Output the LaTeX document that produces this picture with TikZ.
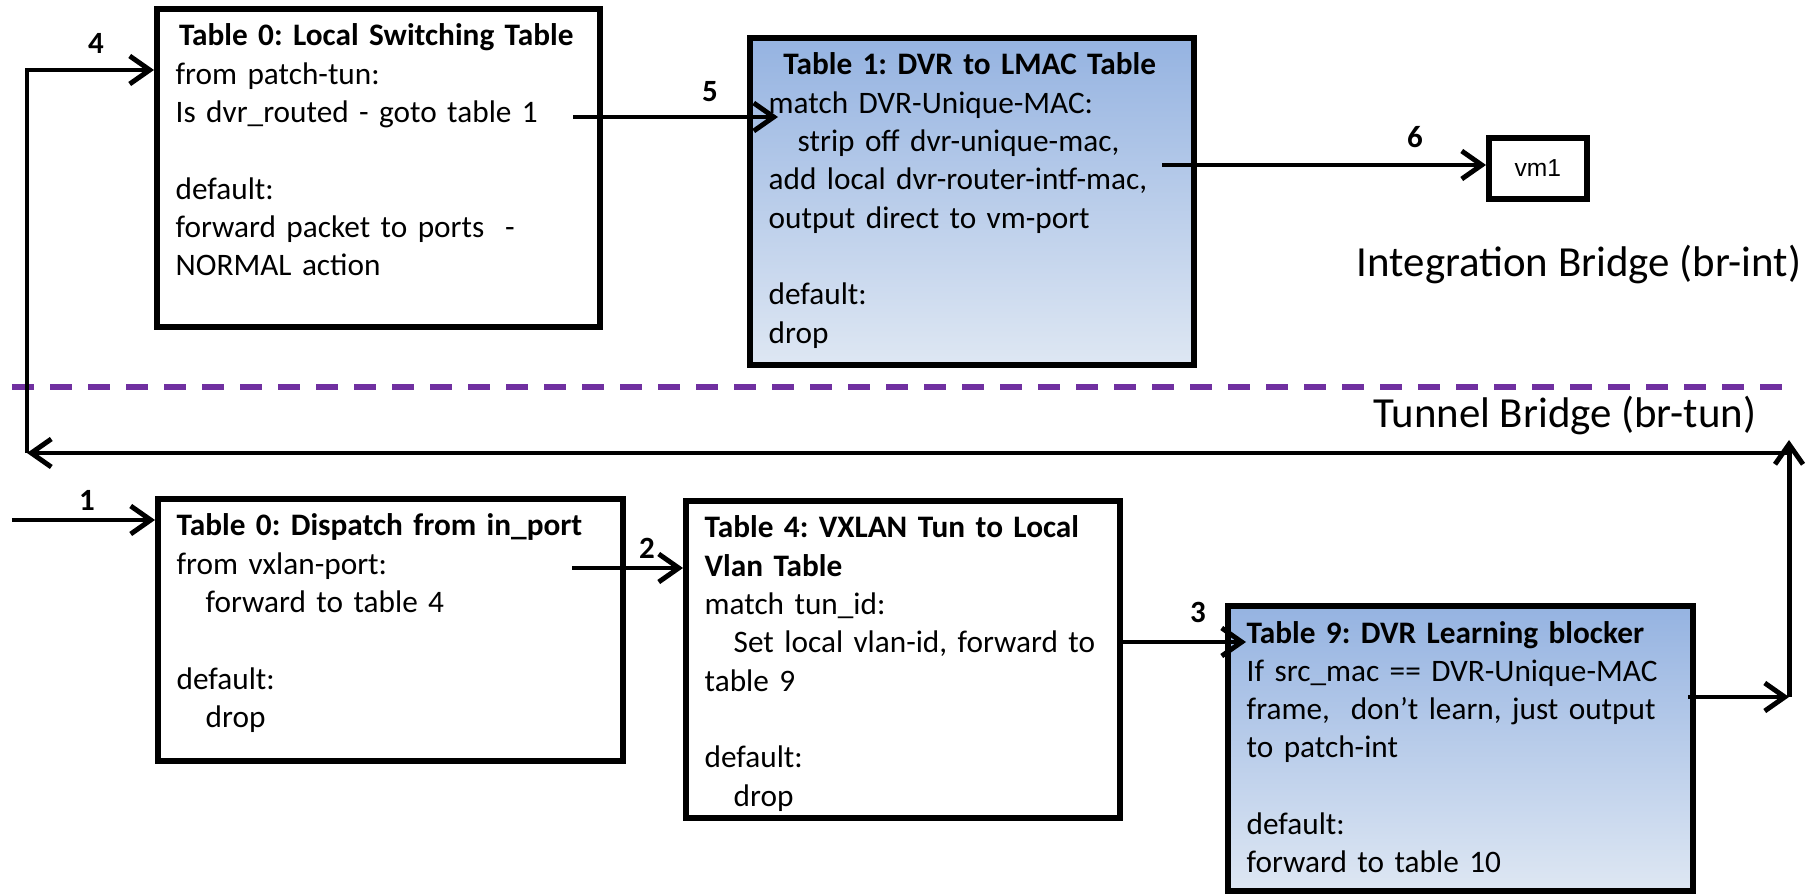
\documentclass[tikz,border=0pt]{standalone}
\usepackage{fontspec}
\setmainfont{Carlito}
\newfontfamily\vmfont{Liberation Sans}
\usepackage{xcolor}
\usepackage{tikz}
\usetikzlibrary{arrows.meta,calc,positioning}
\definecolor{bridgepurple}{RGB}{112,48,160}
\definecolor{dvrtop}{RGB}{149,179,225}
\definecolor{dvrbottom}{RGB}{222,231,243}
\newcommand{\ind}{\hspace*{0.29cm}}
\frenchspacing
\tikzset{
    tbl/.style={draw, line width=1.6pt, rectangle, inner sep=0pt, anchor=north west},
    dvrtbl/.style={tbl, top color=dvrtop, bottom color=dvrbottom},
    tbltext/.style={anchor=base west, inner sep=0pt, align=left, font=\fontsize{8.9}{10.9}\selectfont},
    flow/.style={line width=1.4pt, -{Straight Barb[length=2mm,width=2.8mm]}},
    steplabel/.style={inner sep=0pt, font=\fontsize{8.8}{10}\selectfont\bfseries},
    bridgename/.style={anchor=base east, inner sep=0pt, font=\fontsize{12.2}{14}\selectfont}}

\begin{document}
\begin{tikzpicture}
\useasboundingbox (0,0) rectangle (18.17,-8.96);

% integration bridge
\node[tbl, minimum width=4.43cm, minimum height=3.18cm] (lst) at (1.54,-0.06) {};
\node[tbltext, text width=4.01cm] (lsttxt) at ($(lst.north west)+(0.21,-0.40)$) {\hfill\textbf{Table 0: Local Switching Table}\hfill\null\\
from patch-tun:\\
Is dvr\_routed - goto table 1\\[10.9pt]
default:\\
forward packet to ports \ -\\
NORMAL action};
\node[dvrtbl, minimum width=4.44cm, minimum height=3.27cm] (dvr) at (7.47,-0.35) {};
\node[tbltext, text width=4.02cm] (dvrtxt) at ($(dvr.north west)+(0.21,-0.40)$) {\hfill\textbf{Table 1: DVR to LMAC Table}\hfill\null\\
match DVR-Unique-MAC:\\
\ind strip off dvr-unique-mac,\\
add local dvr-router-intf-mac,\\
output direct to vm-port\\[10.9pt]
default:\\
drop};
\node[tbl, minimum width=0.98cm, minimum height=0.61cm, font=\vmfont\fontsize{7}{8}\selectfont] (vm) at (14.86,-1.35) {vm1};
\node[bridgename] (brint) at (18.02,-2.77) {Integration Bridge (br-int)};

\draw[bridgepurple, line width=1.5pt, dash pattern=on 0.22cm off 0.16cm] (0.12,-3.87) -- (17.90,-3.87);
\node[bridgename] (brtun) at (17.57,-4.28) {Tunnel Bridge (br-tun)};

% tunnel bridge
\node[tbl, minimum width=4.65cm, minimum height=2.62cm] (disp) at (1.55,-4.96) {};
\node[tbltext, text width=4.23cm] (disptxt) at ($(disp.north west)+(0.21,-0.40)$) {\textbf{Table 0: Dispatch from in\_port}\\
from vxlan-port:\\
\ind forward to table 4\\[10.9pt]
default:\\
\ind drop};
\node[tbl, minimum width=4.34cm, minimum height=3.17cm] (vxlan) at (6.83,-4.98) {};
\node[tbltext, text width=3.92cm] (vxlantxt) at ($(vxlan.north west)+(0.21,-0.40)$) {\textbf{Table 4: VXLAN Tun to Local}\\
\textbf{Vlan Table}\\
match tun\_id:\\
\ind Set local vlan-id, forward to\\
table 9\\[10.9pt]
default:\\
\ind drop};
\node[dvrtbl, minimum width=4.65cm, minimum height=2.85cm] (learn) at (12.25,-6.03) {};
\node[tbltext, text width=4.23cm] (learntxt) at ($(learn.north west)+(0.21,-0.40)$) {\textbf{Table 9: DVR Learning blocker}\\
If src\_mac == DVR-Unique-MAC\\
frame, \ don’t learn, just output\\
to patch-int\\[10.9pt]
default:\\
forward to table 10};

% connectors
\coordinate (in1) at (0.12,-5.20);
\coordinate (out2) at (5.72,-5.68);
\coordinate (in3) at (12.46,-6.42);
\coordinate (out9) at (16.88,-6.97);
\coordinate (rb) at (17.89,-6.97);
\coordinate (rt) at (17.89,-4.53);
\coordinate (rtip) at (17.89,-4.40);
\coordinate (lt) at (0.27,-4.53);
\coordinate (in4) at (0.27,-0.70);
\coordinate (out5) at (5.73,-1.17);
\coordinate (in5) at (7.78,-1.17);
\coordinate (out6) at (11.62,-1.65);

\draw[flow] (in1) -- (disp.west |- in1);
\draw[flow] (out2) -- (vxlan.west |- out2);
\draw[flow] (vxlan.east |- in3) -- (in3);
\draw[flow] (out9) -- (rb);
\draw[flow] (rb) -- (rtip);
\draw[flow] (rt) -- (lt);
\draw[flow] (lt) |- (lst.west |- in4);
\draw[flow] (out5) -- (in5);
\draw[flow] (out6) -- (vm.west |- out6);

\node[steplabel] (n1) at (0.87,-5.00) {1};
\node[steplabel] (n2) at (6.47,-5.48) {2};
\node[steplabel] (n3) at (11.98,-6.12) {3};
\node[steplabel] (n4) at (0.96,-0.43) {4};
\node[steplabel] (n5) at (7.10,-0.92) {5};
\node[steplabel] (n6) at (14.15,-1.37) {6};
\end{tikzpicture}
\end{document}
